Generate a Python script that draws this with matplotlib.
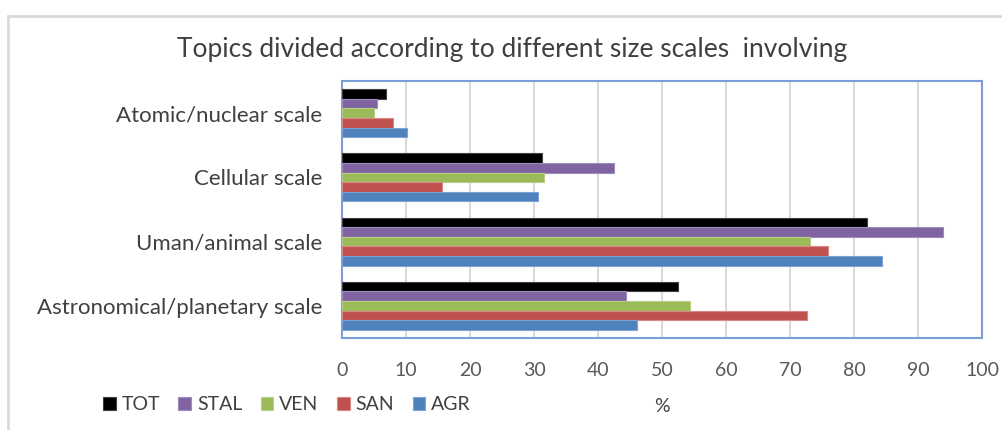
import matplotlib
matplotlib.use('Agg')
import matplotlib.pyplot as plt
import matplotlib.patches as mpatches
import numpy as np

plt.rcParams['font.family'] = ['Lato', 'DejaVu Sans']

# data (%)
categories = ['Atomic/nuclear scale', 'Cellular scale', 'Uman/animal scale',
              'Astronomical/planetary scale']
series = ['TOT', 'STAL', 'VEN', 'SAN', 'AGR']
TOT = [6.9, 31.3, 82.1, 52.5]
STAL = [5.4, 42.5, 93.9, 44.4]
VEN = [5.0, 31.5, 73.2, 54.3]
SAN = [7.9, 15.7, 76.0, 72.7]
AGR = [10.2, 30.7, 84.3, 46.1]
values = [TOT, STAL, VEN, SAN, AGR]
colors = ['#000000', '#8064a2', '#9bbb59', '#c0504d', '#4f81bd']
edges = ['#404040', '#9e8bbb', '#b5cf87', '#d98886', '#7fa3d4']

fig = plt.figure(figsize=(10.03, 4.30), dpi=100)
ax = fig.add_axes([342/1003, 1-338/430, 640/1003, 257/430])

# outer chart border
fig.patches.append(mpatches.Rectangle((8/1003, -0.1), 1.1, 1-16/430+0.1,
                                      transform=fig.transFigure, fill=False,
                                      edgecolor='#d9d9d9', linewidth=2))

n = len(series)
h = 0.75 / n
y = np.arange(len(categories))
for i, (vals, c, e) in enumerate(zip(values, colors, edges)):
    ax.barh(y - 0.375 + h/2 + i*h, vals, height=h, color=c, edgecolor=e,
            linewidth=0.8, label=series[i], zorder=3)

ax.set_xlim(0, 100)
ax.set_ylim(len(categories) - 0.5, -0.5)
ax.set_xticks(np.arange(0, 101, 10))
ax.set_yticks(y)
ax.set_yticklabels(categories, fontsize=16, color='#404040')
ax.tick_params(axis='x', labelsize=14, labelcolor='#595959', length=0, pad=17)
ax.tick_params(axis='y', length=0, pad=14)
ax.grid(axis='x', color='#d9d9d9', linewidth=1.5, zorder=0)
for s in ax.spines.values():
    s.set_color('#7a9fd6')
    s.set_linewidth(1.5)

ax.set_xlabel('%', fontsize=14, color='#404040', labelpad=14)
fig.text(512/1003, 1-50/430, 'Topics divided according to different size scales  involving',
         ha='center', va='center', fontsize=19, color='#404040')

fig.legend(loc='center left', bbox_to_anchor=(103/1003, 1-405/430), ncol=5,
           frameon=False, fontsize=14, handlelength=0.65, handleheight=0.65,
           handletextpad=0.3, columnspacing=0.95, labelcolor='#404040',
           borderaxespad=0, borderpad=0)

fig.savefig('out.png', dpi=100)
